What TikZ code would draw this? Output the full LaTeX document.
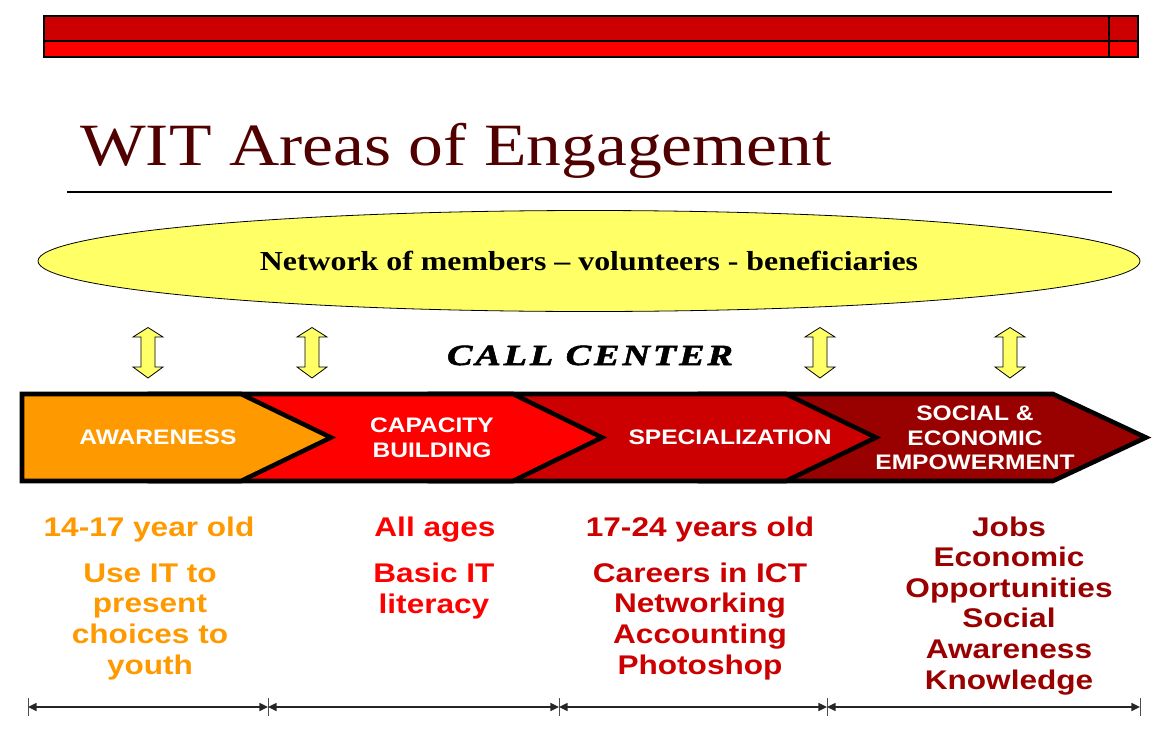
\documentclass[tikz,border=0pt]{standalone}
\usepackage{fontspec}
\setmainfont[FakeStretch=1.16]{Liberation Serif}
\newfontfamily\armsans[FakeStretch=1.17]{Liberation Sans}
\newfontfamily\callfont[FakeStretch=1.3,FakeBold=2,LetterSpace=10]{Liberation Serif}
\usetikzlibrary{arrows.meta,shapes.geometric}

\definecolor{witorange}{HTML}{FF9900}
\definecolor{witred}{HTML}{FF0000}
\definecolor{witcrimson}{HTML}{CC0000}
\definecolor{witmaroon}{HTML}{990000}
\definecolor{wittitle}{HTML}{500000}
\definecolor{wityellow}{HTML}{FFFF66}

\begin{document}
\begin{tikzpicture}[x=0.75pt,y=-0.75pt,
      bar/.style = {draw=black, line width=0.8pt},
      stage/.style = {draw=black, line width=3.4pt, line join=miter},
      stagelabel/.style = {text=white, align=center, inner sep=0pt,
         font=\armsans\bfseries\fontsize{15.75}{18.4}\selectfont},
      coltext/.style = {align=center, inner sep=0pt, anchor=base,
         font=\armsans\bfseries\fontsize{20.25}{22.9}\selectfont},
      netellipse/.style = {ellipse, draw=black, line width=0.6pt, fill=wityellow,
         minimum width=826.5pt, minimum height=75.75pt, inner sep=0pt,
         font=\bfseries\fontsize{20.6}{23}\selectfont},
      updown/.style = {draw=black, line width=0.6pt, fill=wityellow, line join=miter},
      span/.style = {{Triangle[length=6.5pt,width=6pt]}-{Triangle[length=6.5pt,width=6pt]},
         line width=1.1pt, draw=black!85},
      tick/.style = {line width=0.6pt, draw=black!70}
]
\useasboundingbox (0,0) rectangle (1153,750);

   % header bar
   \draw[bar, fill=witcrimson] (44,16) rectangle (1138,41);
   \draw[bar, fill=witred]     (44,41) rectangle (1138,57);
   \draw[bar] (1109,16) -- (1109,57);

   % title
   \node[anchor=base west, inner sep=0pt, text=wittitle,
         font=\fontsize{45}{50}\selectfont] (title) at (80,165) {WIT Areas of Engagement};
   \draw[line width=0.8pt] (67,192) -- (1112,192);

   % network
   \node[netellipse] (net) at (589,261) {Network of members -- volunteers - beneficiaries};

   \node[anchor=base, inner sep=0pt,
         font=\callfont\bfseries\itshape\fontsize{22}{24}\selectfont] (call) at (590,365) {CALL CENTER};

   % links to the network
   \foreach \ax in {148,312,820,1010}
      \draw[updown] (\ax-7,337) -- (\ax-15,337) -- (\ax,327.5) -- (\ax+15,337)
         -- (\ax+7,337) -- (\ax+7,367) -- (\ax+15,367) -- (\ax,378)
         -- (\ax-15,367) -- (\ax-7,367) -- cycle;

   % stages, right to left
   \draw[stage, fill=witmaroon]  (700,394) -- (1053,394) -- (1146,437.5) -- (1053,481) -- (700,481) -- cycle;
   \draw[stage, fill=witcrimson] (430,394) -- (786,394) -- (876,437.5) -- (786,481) -- (430,481) -- cycle;
   \draw[stage, fill=witred]     (150,394) -- (513,394) -- (602,437.5) -- (513,481) -- (150,481) -- cycle;
   \draw[stage, fill=witorange]  (22,394) -- (241,394) -- (331,437.5) -- (241,481) -- (22,481) -- cycle;

   \node[stagelabel] (aware)    at (158,437.5) {AWARENESS};
   \node[stagelabel] (capacity) at (432,437.5) {CAPACITY\\BUILDING};
   \node[stagelabel] (special)  at (730,437.5) {SPECIALIZATION};
   \node[stagelabel] (social)   at (975,438)   {SOCIAL \&\\ECONOMIC\\EMPOWERMENT};

   % target groups (base = last line)
   \node[coltext, text=witorange] (age1) at (149,536) {14-17 year old};
   \node[coltext, text=witorange] (aim1) at (150,674) {Use IT to\\present\\choices to\\youth};
   \node[coltext, text=witred] (age2) at (435,536) {All ages};
   \node[coltext, text=witred] (aim2) at (434,613.5) {Basic IT\\literacy};
   \node[coltext, text=witcrimson] (age3) at (700,536) {17-24 years old};
   \node[coltext, text=witcrimson] (aim3) at (700,674) {Careers in ICT\\Networking\\Accounting\\Photoshop};
   \node[coltext, text=witmaroon] (aim4) at (1009,689) {Jobs\\Economic\\Opportunities\\Social\\Awareness\\Knowledge};

   % time spans
   \coordinate (d0) at (28,707);
   \coordinate (d1) at (268,707);
   \coordinate (d2) at (559,707);
   \coordinate (d3) at (827,707);
   \coordinate (d4) at (1140,707);
   \foreach \tx in {28,268,559,827,1140}
      \draw[tick] (\tx,698) -- (\tx,716);
   \foreach \a/\b in {d0/d1,d1/d2,d2/d3,d3/d4}
      \draw[span] (\a) -- (\b);
\end{tikzpicture}
\end{document}
